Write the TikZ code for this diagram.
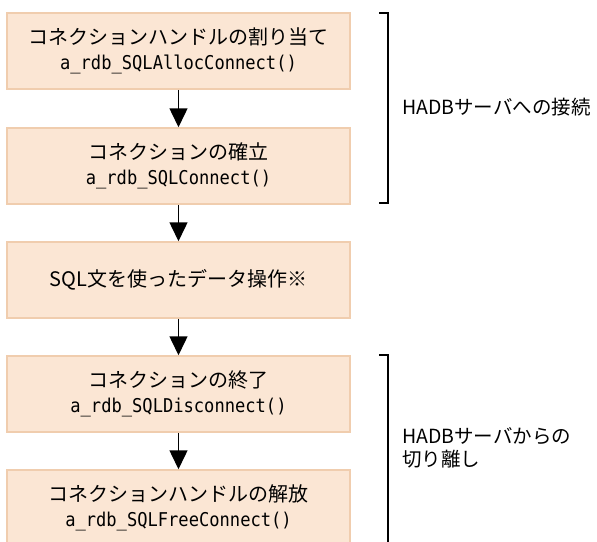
\documentclass[tikz,border=0pt]{standalone}
\usepackage{fontspec}
\setmainfont{Noto Sans CJK JP}
\newfontfamily\codefont{DejaVu Sans Mono}[FakeStretch=0.9]
\usetikzlibrary{arrows.meta}
\definecolor{boxfill}{HTML}{FBE6D4}
\definecolor{boxline}{HTML}{F0CDAE}
\newcommand{\codetext}[1]{{\codefont\fontsize{19}{25}\selectfont #1}}
\begin{document}
\begin{tikzpicture}[x=1pt,y=-1pt,
  stepbox/.style={draw=boxline, fill=boxfill, line width=1.5pt, minimum width=343pt, minimum height=76pt, inner sep=0pt, align=center, font=\fontsize{20}{25}\selectfont},
  flow/.style={line width=1.5pt, -{Triangle[width=18pt,length=19pt]}},
  bracketline/.style={line width=1.5pt},
  sidelabel/.style={anchor=west, align=left, inner sep=0pt, font=\fontsize{19.5}{23}\selectfont}]
\useasboundingbox (0,0) rectangle (597,541);
\node[stepbox] (b1) at (178.5,51) {コネクションハンドルの割り当て\\\codetext{a\_rdb\_SQLAllocConnect()}};
\node[stepbox] (b2) at (178.5,166) {コネクションの確立\\\codetext{a\_rdb\_SQLConnect()}};
\node[stepbox] (b3) at (178.5,280) {SQL文を使ったデータ操作※};
\node[stepbox] (b4) at (178.5,394) {コネクションの終了\\\codetext{a\_rdb\_SQLDisconnect()}};
\node[stepbox] (b5) at (178.5,508) {コネクションハンドルの解放\\\codetext{a\_rdb\_SQLFreeConnect()}};
\draw[flow] (b1) -- (b2);
\draw[flow] (b2) -- (b3);
\draw[flow] (b3) -- (b4);
\draw[flow] (b4) -- (b5);
\coordinate (t1a) at (379,13);
\coordinate (t1b) at (388,13);
\coordinate (t1c) at (388,203);
\coordinate (t1d) at (379,203);
\draw[bracketline] (t1a) -- (t1b) -- (t1c) -- (t1d);
\coordinate (t2a) at (379,355);
\coordinate (t2b) at (388,355);
\coordinate (t2c) at (388,548);
\draw[bracketline] (t2a) -- (t2b) -- (t2c);
\node[sidelabel] (l1) at (402,107) {HADBサーバへの接続};
\node[sidelabel] (l2) at (402,448) {HADBサーバからの\\切り離し};
\end{tikzpicture}
\end{document}
